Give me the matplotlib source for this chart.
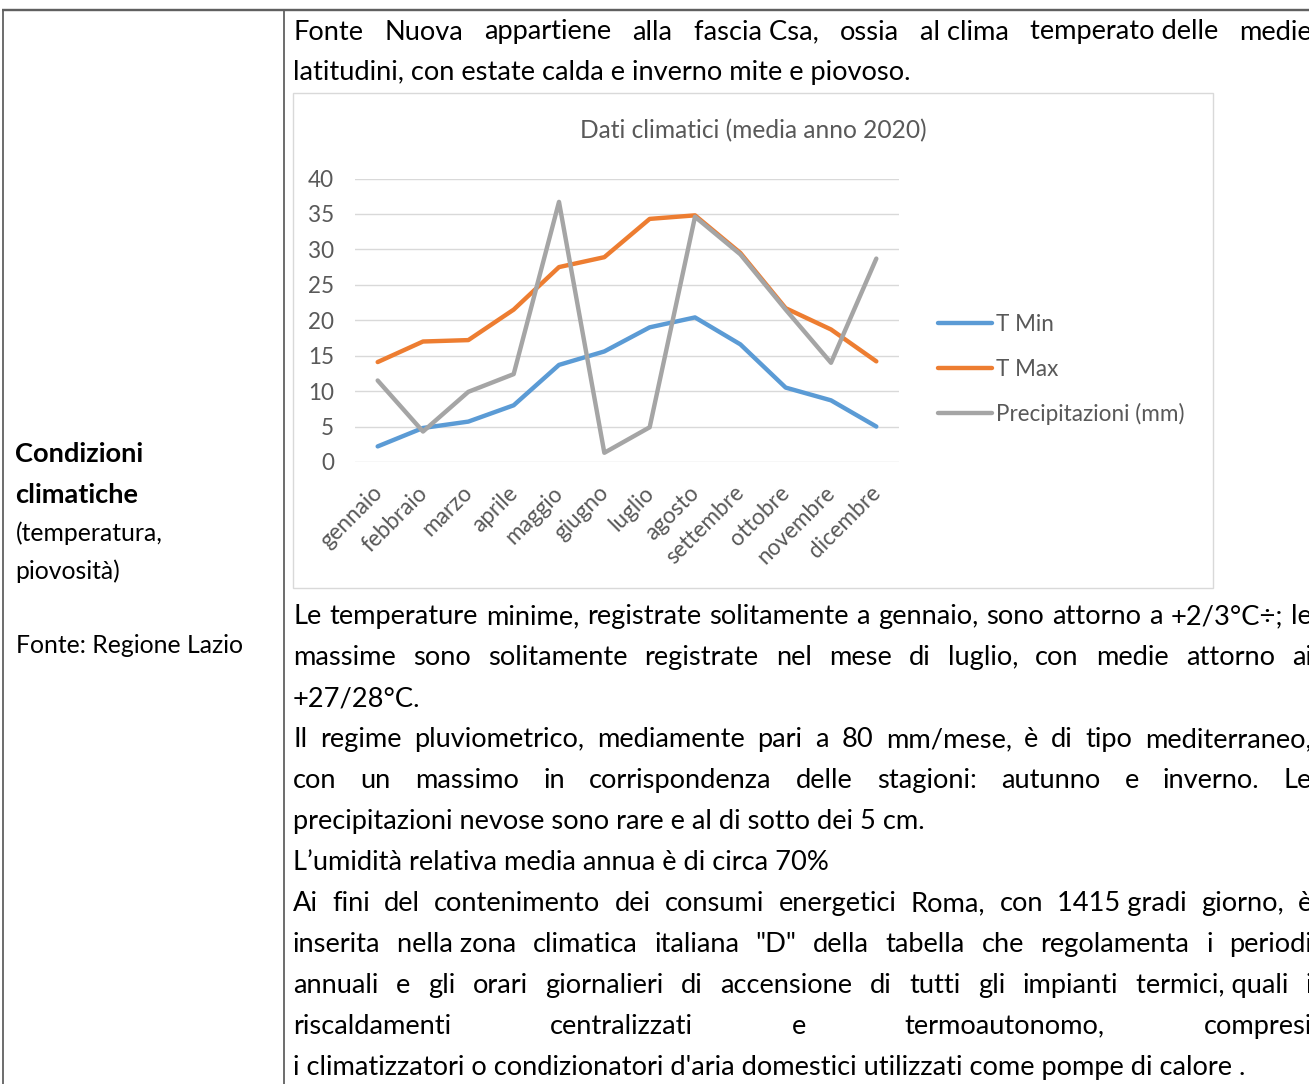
import matplotlib
matplotlib.use("Agg")
import matplotlib.pyplot as plt
from matplotlib.patches import Rectangle
from matplotlib.transforms import ScaledTranslation

# ---------------- data ----------------
months = ["gennaio", "febbraio", "marzo", "aprile", "maggio", "giugno",
          "luglio", "agosto", "settembre", "ottobre", "novembre", "dicembre"]
t_min = [2.2, 4.8, 5.7, 8.0, 13.7, 15.6, 19.0, 20.4, 16.6, 10.5, 8.7, 5.0]
t_max = [14.1, 17.0, 17.2, 21.5, 27.5, 28.9, 34.3, 34.8, 29.5, 21.7, 18.7, 14.2]
precip = [11.5, 4.3, 9.9, 12.4, 36.7, 1.3, 4.9, 34.6, 29.3, 21.5, 14.0, 28.7]
series_names = ["T Min", "T Max", "Precipitazioni (mm)"]
series_colors = ["#5B9BD5", "#ED7D31", "#A5A5A5"]
y_ticks = [0, 5, 10, 15, 20, 25, 30, 35, 40]
chart_title = "Dati climatici (media anno 2020)"

NB = "\u00a0"  # non-stretching space in justified lines
right_lines = [
    ("Fonte Nuova appartiene alla fascia" + NB + "Csa, ossia al" + NB + "clima temperato" + NB + "delle medie", True),
    ("latitudini, con estate calda e inverno mite e piovoso.", False),
]
right_lines2 = [
    ("Le temperature minime, registrate solitamente a gennaio, sono attorno a +2/3°C÷; le", True),
    ("massime sono solitamente registrate nel mese di luglio, con medie attorno ai", True),
    ("+27/28°C.", False),
    ("Il regime pluviometrico, mediamente pari a 80 mm/mese, è di tipo mediterraneo,", True),
    ("con un massimo in corrispondenza delle stagioni: autunno e inverno. Le", True),
    ("precipitazioni nevose sono rare e al di sotto dei 5 cm.", False),
    ("L\u2019umidità relativa media annua è di circa 70%", False),
    ("Ai fini del contenimento dei consumi energetici Roma, con 1415" + NB + "gradi giorno, è", True),
    ("inserita nella" + NB + "zona climatica italiana \"D\" della tabella che regolamenta i periodi", True),
    ("annuali e gli orari giornalieri di accensione di tutti gli impianti termici," + NB + "quali i", True),
    ("riscaldamenti centralizzati e termoautonomo, compresi", True),
    ("i climatizzatori o condizionatori d'aria domestici utilizzati come pompe di calore .", False),
]
left_lines = [
    ("Condizioni", "bold"),
    ("climatiche", "bold"),
    ("(temperatura,", "normal"),
    ("piovosità)", "normal"),
    ("Fonte: Regione Lazio", "normal"),
]

# ---------------- setup ----------------
FAM = ["Lato", "DejaVu Sans"]
plt.rcParams["font.family"] = FAM
W, H = 1309, 1084
DPI = 100
fig = plt.figure(figsize=(W / DPI, H / DPI), dpi=DPI)
fig.patch.set_facecolor("white")
bg = fig.add_axes([0, 0, 1, 1])
bg.set_xlim(0, W)
bg.set_ylim(H, 0)
bg.axis("off")
R = fig.canvas.get_renderer()
PX = 72.0 / DPI  # points per pixel


def twidth(s, size, weight="normal"):
    t = bg.text(0, 500, s, fontsize=size, fontweight=weight)
    w = t.get_window_extent(R).width
    t.remove()
    return w


def fit(s, target, weight="normal", base=20.0):
    return base * target / twidth(s, base, weight)


body = fit("latitudini, con estate calda e inverno mite e piovoso.", 621)
left_body = 0.5 * (fit("Fonte: Regione Lazio", 222) + fit("(temperatura,", 151))
title_size = fit(chart_title, 348)
leg_size = fit("Precipitazioni (mm)", 189)


def draw_line(s, x0, y, size, justify, x1=1312.0, weight="normal", color="black"):
    if not justify:
        bg.text(x0, y, s.replace(NB, " "), fontsize=size, fontweight=weight,
                color=color, ha="left", va="baseline")
        return
    words = [w.replace(NB, " ") for w in s.split(" ")]
    ws = [twidth(w, size, weight) for w in words]
    gap = (x1 - x0 - sum(ws)) / (len(words) - 1)
    x = x0
    for w, wd in zip(words, ws):
        bg.text(x, y, w, fontsize=size, fontweight=weight, color=color,
                ha="left", va="baseline")
        x += wd + gap


# ---------------- table frame ----------------
frame_c = "#606060"
bg.plot([2, W + 2], [10, 10], color=frame_c, lw=2.0 * PX * 1.2, solid_capstyle="butt")
bg.plot([2.5, 2.5], [9, H + 2], color=frame_c, lw=1.8 * PX, solid_capstyle="butt")
bg.plot([283.5, 283.5], [9, H + 2], color=frame_c, lw=1.8 * PX, solid_capstyle="butt")

# ---------------- left column ----------------
left_y = [462, 503, 541, 579, 653]
for (s, wt), y in zip(left_lines, left_y):
    draw_line(s, 15.5, y, body if wt == "bold" else left_body, False, weight=wt)

# ---------------- right column text ----------------
for (s, j), y in zip(right_lines, [39.5, 80]):
    draw_line(s, 293, y, body, j)
for k, (s, j) in enumerate(right_lines2):
    draw_line(s, 293, 624 + 41 * k, body, j)

# ---------------- chart ----------------
bg.add_patch(Rectangle((293, 93), 920, 495, fill=False, ec="#d9d9d9", lw=1.4 * PX))
bg.text(753, 138, chart_title, fontsize=title_size, color="#595959",
        ha="center", va="baseline")

ax = fig.add_axes([355 / W, 1 - 462 / H, (899 - 355) / W, (462 - 178.5) / H])
ax.set_facecolor("none")
x = list(range(len(months)))
for vals, c in zip([t_min, t_max, precip], series_colors):
    ax.plot(x, vals, color=c, lw=4.4 * PX, solid_capstyle="round",
            solid_joinstyle="round", zorder=3, clip_on=False)
ax.set_xlim(-0.5, len(months) - 0.5)
ax.set_ylim(0, 40)
ax.set_yticks(y_ticks)
ax.grid(axis="y", color="#d9d9d9", lw=1.4 * PX)
ax.set_axisbelow(True)
for sp in ax.spines.values():
    sp.set_visible(False)
ax.tick_params(axis="y", length=0, pad=21 * PX, labelsize=leg_size, labelcolor="#595959")
ax.set_xticks(x)
ax.set_xticklabels(months, rotation=45, ha="right", va="center",
                   rotation_mode="anchor", fontsize=leg_size, color="#595959")
ax.tick_params(axis="x", length=0, pad=27.5 * PX)
off = ScaledTranslation(1 / DPI, 0, fig.dpi_scale_trans)
for lab in ax.get_xticklabels():
    lab.set_transform(lab.get_transform() + off)

# legend
cap = 0.72 * leg_size / PX
for i, (name, c) in enumerate(zip(series_names, series_colors)):
    yy = 323 + 45 * i
    bg.plot([938, 992], [yy, yy], color=c, lw=4.4 * PX, solid_capstyle="round")
    bg.text(996, yy + cap / 2, name, fontsize=leg_size, color="#595959",
            ha="left", va="baseline")

fig.savefig("out.png", dpi=DPI, facecolor="white")
